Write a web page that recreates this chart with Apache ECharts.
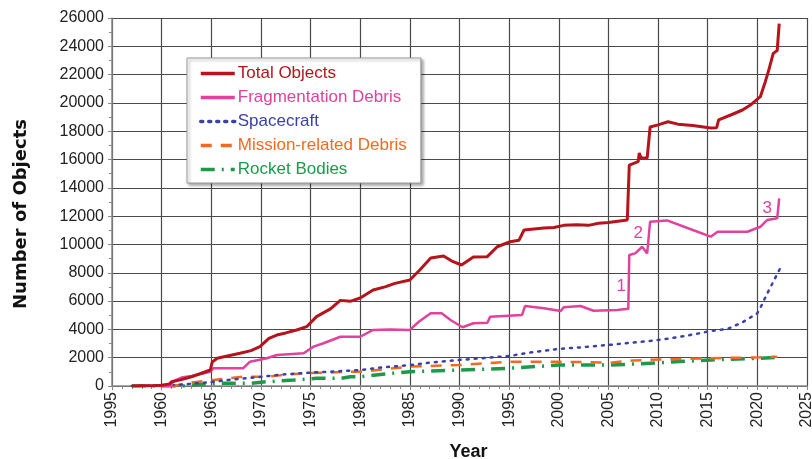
<!DOCTYPE html>
<html>
<head>
<meta charset="utf-8">
<script src="https://cdn.jsdelivr.net/npm/echarts@6/dist/echarts.min.js"></script>
<style>html,body{margin:0;padding:0;background:#fff;}#c{width:812px;height:459px;}</style>
</head>
<body>
<div id="c"></div>
<script>
const xTickLabels = ['1995','1960','1965','1970','1975','1980','1985','1990','1995','2000','2005','2010','2015','2020','2025'];
const seriesNames = ['Total Objects','Fragmentation Debris','Spacecraft','Mission-related Debris','Rocket Bodies'];

const totalObjects = [[1957,0],[1958,10],[1959,20],[1960,50],[1960.8,150],[1961,300],[1962,450],[1963,650],[1964,900],[1964.9,1130],[1965.1,1700],[1965.6,1960],[1966.5,2100],[1967.9,2310],[1969,2500],[1969.9,2780],[1970.8,3370],[1971.6,3600],[1972.5,3750],[1973.6,3960],[1974.6,4190],[1975.6,4900],[1977,5450],[1978,6050],[1979,5980],[1980,6220],[1981.3,6780],[1982.5,7000],[1983.5,7250],[1985,7490],[1986,8200],[1987.1,9040],[1988.4,9180],[1989.3,8800],[1990.2,8550],[1991.4,9110],[1992.8,9140],[1993.8,9840],[1995.1,10190],[1996,10300],[1996.5,11020],[1998.5,11160],[1999.5,11200],[2000.5,11350],[2001.8,11400],[2003,11350],[2004,11500],[2005,11550],[2006.9,11730],[2007.1,15610],[2008,15850],[2008.1,16460],[2008.3,16100],[2008.9,16100],[2009.2,18300],[2010,18450],[2011,18670],[2012,18500],[2013.5,18400],[2015.3,18230],[2015.9,18250],[2016.1,18800],[2017.5,19200],[2018.5,19500],[2019.3,19850],[2020.3,20440],[2020.8,21500],[2021.1,22200],[2021.6,23500],[2022,23700],[2022.2,25600]];
const fragmentationDebris = [[1958,0],[1961,0],[1961.1,300],[1962,600],[1963,700],[1964.9,1010],[1965.2,1250],[1968.2,1250],[1968.9,1720],[1970.6,1960],[1971.6,2190],[1974.3,2310],[1975.3,2780],[1976.3,3020],[1978,3480],[1980,3480],[1981.3,3960],[1983,4000],[1985,3960],[1985.9,4540],[1987.1,5140],[1988.2,5140],[1989.1,4660],[1990.3,4150],[1991.4,4430],[1992.8,4470],[1993.1,4900],[1996.3,5020],[1996.6,5650],[1998.5,5490],[2000.2,5300],[2000.5,5560],[2002.2,5650],[2003.5,5320],[2005.9,5370],[2007,5450],[2007.1,9260],[2007.7,9370],[2008.4,9840],[2008.9,9370],[2009.2,11610],[2010.9,11700],[2013.5,11020],[2015.3,10550],[2016,10900],[2019,10900],[2020.3,11250],[2021,11730],[2022,11850],[2022.2,13260]];
const spacecraft = [[1957,0],[1960,40],[1962,100],[1965,280],[1967,450],[1970,650],[1972,800],[1975,950],[1977,1010],[1980,1130],[1982,1300],[1985,1480],[1987,1650],[1990,1840],[1992,1950],[1995,2120],[1997,2350],[2000,2620],[2002,2720],[2005,2900],[2008,3100],[2010,3250],[2012,3450],[2014,3700],[2015.3,3890],[2017,4030],[2018.5,4500],[2020,5140],[2020.5,5800],[2021,6550],[2021.7,7500],[2022.3,8320]];
const missionRelatedDebris = [[1957,0],[1961,0],[1962,100],[1963,250],[1965,400],[1966.6,540],[1968.2,660],[1970.6,660],[1972.3,780],[1974.3,900],[1977,950],[1979,1010],[1980.3,1010],[1982.5,1200],[1985,1370],[1990,1480],[1992.5,1600],[1995,1720],[2000,1720],[2005.2,1650],[2007.5,1800],[2010.2,1880],[2015.3,1960],[2020.3,2030],[2022,2070]];
const rocketBodies = [[1957,0],[1962.2,0],[1963.5,100],[1965.6,190],[1968.9,190],[1970.6,300],[1973.3,420],[1975.6,540],[1978,540],[1979,660],[1980,660],[1982.5,850],[1985,1010],[1990,1130],[1995,1250],[2000,1480],[2005.2,1480],[2007.5,1550],[2010.2,1650],[2015.3,1840],[2020.3,1960],[2022,2030]];
const annotations = [{label:'1', coord:[2006.3,7050]},{label:'2', coord:[2008.0,10800]},{label:'3', coord:[2021.0,12550]}];

const colors = ['#b5141c','#e0429c','#3b41a6','#f26a22','#1c9a4a'];
const FONT = 'Liberation Sans, Arial, sans-serif';

const chart = echarts.init(document.getElementById('c'));
chart.setOption({
  animation: false,
  backgroundColor: '#fff',
  grid: {left: 112, right: 5, top: 18, bottom: 73, containLabel: false, outerBoundsMode: 'none'},
  xAxis: {
    type: 'value', min: 1955, max: 2025, interval: 5,
    name: 'Year', nameLocation: 'middle', nameGap: 57,
    nameTextStyle: {fontFamily: FONT, fontWeight: 'bold', fontSize: 18, color: '#111', padding: [0,0,0,18]},
    axisLine: {show: true, lineStyle: {color: '#888', width: 1.5}},
    axisTick: {show: true, inside: false, length: 4, lineStyle: {color: '#888'}},
    minorTick: {show: true, splitNumber: 5, length: 3, lineStyle: {color: '#888'}},
    axisLabel: {rotate: 90, fontFamily: FONT, fontSize: 16, color: '#222', margin: 6,
      formatter: v => xTickLabels[Math.round((v - 1955) / 5)]},
    splitLine: {show: true, lineStyle: {color: '#4a4a4a', width: 1.2}}
  },
  yAxis: {
    type: 'value', min: 0, max: 26000, interval: 2000,
    name: 'Number of Objects', nameLocation: 'middle', nameGap: 82, nameRotate: 90,
    nameTextStyle: {fontFamily: 'DejaVu Sans, sans-serif', fontWeight: 'bold', fontSize: 18, color: '#111', padding: [0,24,0,0]},
    axisLine: {show: true, lineStyle: {color: '#888', width: 1.5}},
    axisTick: {show: true, length: 4, lineStyle: {color: '#888'}},
    minorTick: {show: true, splitNumber: 2, length: 3, lineStyle: {color: '#888'}},
    axisLabel: {fontFamily: FONT, fontSize: 16, color: '#222', margin: 8, formatter: v => String(v)},
    splitLine: {show: true, lineStyle: {color: '#4a4a4a', width: 1.2}}
  },
  legend: {
    orient: 'vertical', left: 187, top: 58,
    padding: [7, 14, 5, 12],
    itemWidth: 34, itemHeight: 14, itemGap: 7,
    backgroundColor: '#fff', borderColor: '#999', borderWidth: 1,
    shadowColor: 'rgba(0,0,0,0.35)', shadowBlur: 3, shadowOffsetX: 2, shadowOffsetY: 2,
    itemStyle: {opacity: 0},
    lineStyle: {width: 3.5},
    textStyle: {fontFamily: FONT, fontSize: 17, padding: [0,0,0,-2]},
    data: seriesNames.map((n, i) => ({name: n, textStyle: {color: colors[i]}}))
  },
  series: [
    {name: seriesNames[4], type: 'line', data: rocketBodies, showSymbol: false, symbol: 'none',
      lineStyle: {color: colors[4], width: 3.5, type: [14, 7, 2, 7]}, itemStyle: {color: colors[4]}, z: 2},
    {name: seriesNames[3], type: 'line', data: missionRelatedDebris, showSymbol: false, symbol: 'none',
      lineStyle: {color: colors[3], width: 2.5, type: [11, 9]}, itemStyle: {color: colors[3]}, z: 3},
    {name: seriesNames[2], type: 'line', data: spacecraft, showSymbol: false, symbol: 'none',
      lineStyle: {color: colors[2], width: 2.5, type: [2, 6], cap: 'round'}, itemStyle: {color: colors[2]}, z: 4},
    {name: seriesNames[1], type: 'line', data: fragmentationDebris, showSymbol: false, symbol: 'none',
      lineStyle: {color: colors[1], width: 2.5}, itemStyle: {color: colors[1]}, z: 5,
      markPoint: {symbol: 'circle', symbolSize: 1, itemStyle: {color: 'rgba(0,0,0,0)'},
        label: {show: true, position: 'inside', color: colors[1], fontFamily: FONT, fontSize: 17,
          formatter: p => p.name},
        data: annotations.map(a => ({name: a.label, coord: a.coord}))}},
    {name: seriesNames[0], type: 'line', data: totalObjects, showSymbol: false, symbol: 'none',
      lineStyle: {color: colors[0], width: 3}, itemStyle: {color: colors[0]}, z: 6}
  ]
});
</script>
</body>
</html>
